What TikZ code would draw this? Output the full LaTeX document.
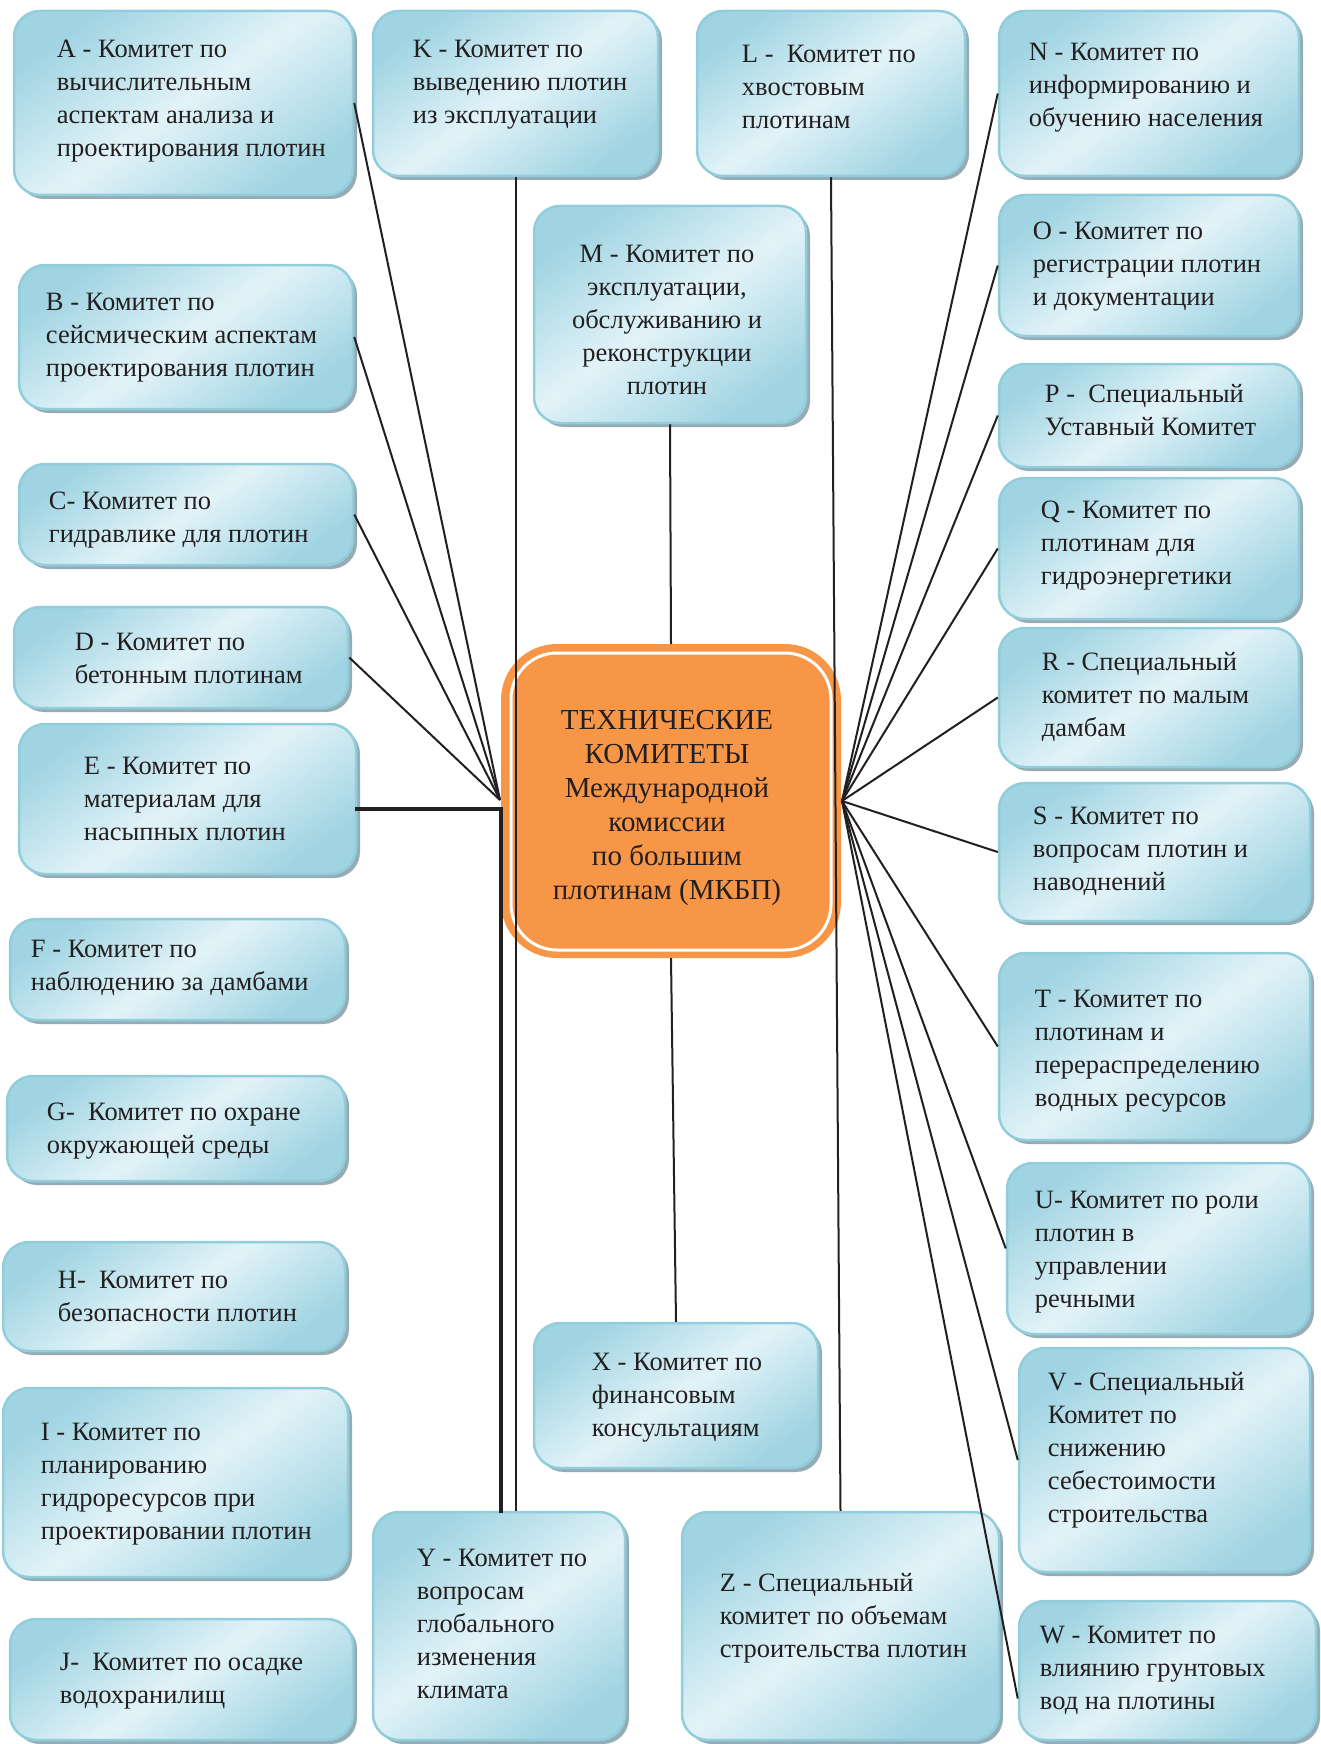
\documentclass[tikz,border=0pt]{standalone}
\usepackage{fontspec}
\setmainfont{Liberation Serif}
\usetikzlibrary{calc}
\definecolor{aquadark}{RGB}{160,212,226}
\definecolor{aqualight}{RGB}{226,243,248}
\definecolor{aquaedge}{RGB}{146,205,220}
\definecolor{boxshadow}{RGB}{150,172,180}
\definecolor{hubfill}{RGB}{247,150,70}
\definecolor{inktext}{RGB}{35,31,32}
\tikzset{
  combox/.style={draw=aquaedge, line width=2.5pt, rounded corners=26pt,
    top color=aquadark, bottom color=aquadark, middle color=aqualight, shading angle=35,
    preaction={fill=boxshadow, transform canvas={shift={(4pt,-4pt)}}}},
  comtext/.style={font=\fontsize{26.5}{33}\selectfont, text=inktext,
    align=left, inner sep=0pt, anchor=north west, execute at begin node=\strut},
  hubbox/.style={fill=hubfill, draw=hubfill, line width=2pt, rounded corners=55pt,
    minimum width=338pt, minimum height=312pt},
  hubtext/.style={align=center, inner sep=0pt, font=\fontsize{29}{34}\selectfont, text=inktext},
  hubring/.style={draw=white, line width=3pt, rounded corners=46pt},
  link/.style={draw=inktext, line width=2pt},
  trunk/.style={draw=inktext, line width=4pt, line cap=rect},
}
\begin{document}
\begin{tikzpicture}[x=1pt, y=-1pt]
  \useasboundingbox (0,0) rectangle (1320,1744);

  % left column
  \node[combox, minimum width=339pt, minimum height=184pt] (A) at (183.5,103) {};
  \node[comtext] at ([shift={(44,30)}]A.north west) {A - Комитет по\\вычислительным\\аспектам анализа и\\проектирования плотин};

  \node[combox, minimum width=334pt, minimum height=144pt] (B) at (186,337) {};
  \node[comtext] at ([shift={(28,29)}]B.north west) {B - Комитет по\\сейсмическим аспектам\\проектирования плотин};

  \node[combox, minimum width=334pt, minimum height=101pt] (C) at (186,514.5) {};
  \node[comtext] at ([shift={(31,29)}]C.north west) {C- Комитет по\\гидравлике для плотин};

  \node[combox, minimum width=334pt, minimum height=101pt] (D) at (181,657.5) {};
  \node[comtext] at ([shift={(62,27)}]D.north west) {D - Комитет по\\бетонным плотинам};

  \node[combox, minimum width=337pt, minimum height=150pt] (E) at (187.5,799) {};
  \node[comtext] at ([shift={(66,34)}]E.north west) {E - Комитет по\\материалам для\\насыпных плотин};

  \node[combox, minimum width=335pt, minimum height=101pt] (F) at (177.5,969.5) {};
  \node[comtext] at ([shift={(22,22)}]F.north west) {F - Комитет по\\наблюдению за дамбами};

  \node[combox, minimum width=338pt, minimum height=105pt] (G) at (176,1128.5) {};
  \node[comtext] at ([shift={(41,28)}]G.north west) {G- \ Комитет по охране\\окружающей среды};

  \node[combox, minimum width=342pt, minimum height=109pt] (H) at (174,1296.5) {};
  \node[comtext] at ([shift={(56,30)}]H.north west) {H- \ Комитет по\\безопасности плотин};

  \node[combox, minimum width=345pt, minimum height=189pt] (I) at (175.5,1482.5) {};
  \node[comtext] at ([shift={(39,36)}]I.north west) {I - Комитет по\\планированию\\гидроресурсов при\\проектировании плотин};

  \node[combox, minimum width=343pt, minimum height=121pt] (J) at (181.5,1679.5) {};
  \node[comtext] at ([shift={(51,35)}]J.north west) {J- \ Комитет по осадке\\водохранилищ};

  % middle
  \node[combox, minimum width=285pt, minimum height=165pt] (K) at (515.5,93.5) {};
  \node[comtext] at ([shift={(41,30)}]K.north west) {K - Комитет по\\выведению плотин\\из эксплуатации};

  \node[combox, minimum width=268pt, minimum height=165pt] (L) at (831,93.5) {};
  \node[comtext] at ([shift={(46,35)}]L.north west) {L - \ Комитет по\\хвостовым\\плотинам};

  \node[combox, minimum width=272pt, minimum height=217pt] (M) at (670,314.5) {};
  \node[comtext, align=center, anchor=north] at ([shift={(-3,40)}]M.north) {M - Комитет по\\эксплуатации,\\обслуживанию и\\реконструкции\\плотин};

  \node[combox, minimum width=284pt, minimum height=145pt] (X) at (676,1395.5) {};
  \node[comtext] at ([shift={(59,31)}]X.north west) {X - Комитет по\\финансовым\\консультациям};

  \node[combox, minimum width=252pt, minimum height=228pt] (Y) at (499,1626) {};
  \node[comtext] at ([shift={(45,38)}]Y.north west) {Y - Комитет по\\вопросам\\глобального\\изменения\\климата};

  \node[combox, minimum width=317pt, minimum height=228pt] (Z) at (840.5,1626) {};
  \node[comtext] at ([shift={(39,62)}]Z.north west) {Z - Специальный\\комитет по объемам\\строительства плотин};

  % right column
  \node[combox, minimum width=300pt, minimum height=165pt] (N) at (1149,93.5) {};
  \node[comtext] at ([shift={(31,33)}]N.north west) {N - Комитет по\\информированию и\\обучению населения};

  \node[combox, minimum width=300pt, minimum height=141pt] (O) at (1149,265.5) {};
  \node[comtext] at ([shift={(35,28)}]O.north west) {O - Комитет по\\регистрации плотин\\и документации};

  \node[combox, minimum width=300pt, minimum height=103pt] (P) at (1149,415.5) {};
  \node[comtext] at ([shift={(47,21)}]P.north west) {P - \ Специальный\\Уставный Комитет};

  \node[combox, minimum width=300pt, minimum height=141pt] (Q) at (1149,548.5) {};
  \node[comtext] at ([shift={(43,24)}]Q.north west) {Q - Комитет по\\плотинам для\\гидроэнергетики};

  \node[combox, minimum width=300pt, minimum height=139pt] (R) at (1149,697.5) {};
  \node[comtext] at ([shift={(44,25)}]R.north west) {R - Специальный\\комитет по малым\\дамбам};

  \node[combox, minimum width=311pt, minimum height=138pt] (S) at (1154.5,852) {};
  \node[comtext] at ([shift={(35,25)}]S.north west) {S - Комитет по\\вопросам плотин и\\наводнений};

  \node[combox, minimum width=311pt, minimum height=187pt] (T) at (1154.5,1046.5) {};
  \node[comtext] at ([shift={(37,38)}]T.north west) {T - Комитет по\\плотинам и\\перераспределению\\водных ресурсов};

  \node[combox, minimum width=303pt, minimum height=171pt] (U) at (1158.5,1248.5) {};
  \node[comtext] at ([shift={(29,29)}]U.north west) {U- Комитет по роли\\плотин в\\управлении\\речными};

  \node[combox, minimum width=291pt, minimum height=224pt] (V) at (1164.5,1460) {};
  \node[comtext] at ([shift={(30,25)}]V.north west) {V - Специальный\\Комитет по\\снижению\\себестоимости\\строительства};

  \node[combox, minimum width=297pt, minimum height=139pt] (W) at (1167.5,1670.5) {};
  \node[comtext] at ([shift={(22,26)}]W.north west) {W - Комитет по\\влиянию грунтовых\\вод на плотины};

  % centre
  \node[hubbox] (ctr) at (671,801) {};
  \draw[hubring] ([shift={(10pt,-9pt)}]ctr.north west) rectangle ([shift={(-10pt,8pt)}]ctr.south east);
  \node[hubtext] at ([shift={(-4,7)}]ctr.center) {ТЕХНИЧЕСКИЕ\\КОМИТЕТЫ\\Международной\\комиссии\\по большим\\плотинам (МКБП)};

  % connectors
  \coordinate (hubL) at (500,800);
  \coordinate (hubE) at (501,809);
  \coordinate (hubR) at (842,801);
  \foreach \c in {A,B,C,D}
    \draw[link] (\c.east) -- (hubL);
  \draw[trunk] (E.east |- hubE) -- (hubE) -- (hubE |- Y.north);
  \draw[link] (K.south) -- (K.south |- Y.north);
  \draw[link] (M.south) -- (ctr.north);
  \draw[link] (ctr.south) -- (X.north);
  \draw[link] (L.south) -- (Z.north);
  \foreach \c in {N,O,P,Q,R,S,T,U,V}
    \draw[link] (hubR) -- (\c.west);
  \draw[link] (hubR) -- ([yshift=-28pt]W.west);
\end{tikzpicture}
\end{document}
